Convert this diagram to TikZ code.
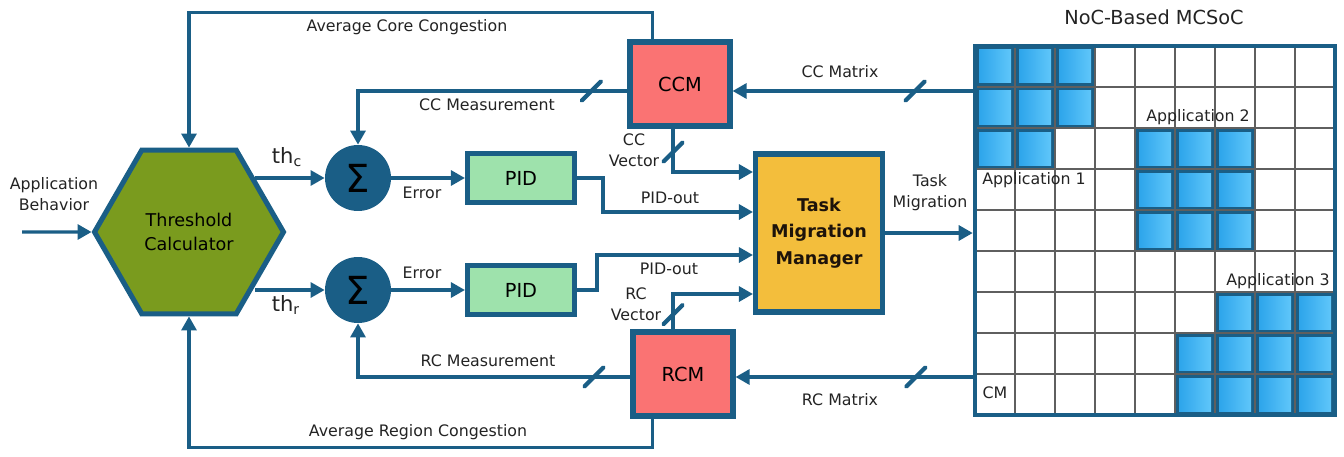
\documentclass[tikz,border=0pt]{standalone}
\usepackage{fontspec}
\setmainfont{DejaVu Sans}
\usepackage{tikz}
\usetikzlibrary{shapes.geometric, arrows.meta, positioning, calc}

\definecolor{linec}{RGB}{26,94,134}
\definecolor{textc}{RGB}{35,35,35}
\definecolor{hexfill}{RGB}{122,155,30}
\definecolor{pidfill}{RGB}{158,226,172}
\definecolor{monfill}{RGB}{250,115,115}
\definecolor{tmmfill}{RGB}{243,190,60}
\definecolor{corelo}{RGB}{45,165,235}
\definecolor{corehi}{RGB}{95,198,250}
\definecolor{gridc}{RGB}{95,95,95}

\tikzset{
  flow/.style={draw=linec, line width=1.9pt, -{Triangle[length=8pt,width=8.5pt]}},
  blk/.style={draw=linec, line width=2.9pt, align=center, inner sep=0pt, text=black},
  hexa/.style={blk, regular polygon, regular polygon sides=6, minimum size=3.78cm,
    fill=hexfill, font=\fontsize{10}{14}\selectfont},
  sumnode/.style={circle, fill=linec, minimum size=1.32cm, inner sep=0pt,
    font=\fontsize{22}{22}\selectfont},
  pidbox/.style={blk, fill=pidfill, minimum width=2.14cm, minimum height=0.98cm,
    font=\fontsize{11}{13}\selectfont},
  monbox/.style={blk, fill=monfill, minimum width=2.0cm, minimum height=1.68cm,
    font=\fontsize{11}{13}\selectfont},
  tmmbox/.style={blk, fill=tmmfill, minimum width=2.54cm, minimum height=3.16cm,
    font=\bfseries\fontsize{10}{15}\selectfont, text=black!85!brown},
  lbl/.style={text=textc, align=center, inner sep=1pt},
  thlbl/.style={lbl, font=\fontsize{12}{14}\selectfont},
  bus/.style={fill=linec, minimum width=2.4pt, minimum height=0.62cm, inner sep=0pt,
    rotate=-45, rounded corners=1pt},
  core/.style={left color=corelo, right color=corehi},
  gridl/.style={draw=gridc, line width=0.7pt},
  nocframe/.style={draw=linec, line width=2.6pt, minimum width=7.2cm,
    minimum height=7.38cm, inner sep=0pt}
}

\begin{document}
\begin{tikzpicture}[x=0.02cm, y=-0.02cm, font=\fontsize{9}{12}\selectfont]
\useasboundingbox (0,0) rectangle (1344,456);

% control blocks
\node[hexa] (thc) at (189,232) {Threshold\\Calculator};
\node[sumnode] (sc) at (358,178) {Σ};
\node[sumnode] (sr) at (358,290) {Σ};
\node[pidbox] (pidc) at (521,178) {PID};
\node[pidbox] (pidr) at (521,290) {PID};
\node[monbox] (ccm) at (680,84) {CCM};
\node[monbox] (rcm) at (683,374) {RCM};
\node[tmmbox] (tmm) at (819,233) {Task\\Migration\\Manager};

% NoC mesh
\foreach \c/\r in {0/0,1/0,2/0,0/1,1/1,2/1,0/2,1/2,
                   4/2,5/2,6/2,4/3,5/3,6/3,4/4,5/4,6/4,
                   6/6,7/6,8/6,5/7,6/7,7/7,8/7,5/8,6/8,7/8,8/8} {
  \fill[linec] (975+40*\c,46+41*\r) rectangle ++(40,41);
  \fill[core] (979+40*\c,50+41*\r) rectangle ++(32,33);
}
\foreach \i in {1,...,8} {
  \draw[gridl] (975+40*\i,46) -- ++(0,369);
  \draw[gridl] (975,46+41*\i) -- ++(360,0);
}
\node[nocframe] (noc) at (1155,230.5) {};
\node[lbl, font=\fontsize{11}{13}\selectfont] (noctitle) at (1154,17) {NoC-Based MCSoC};
\node[lbl] (app1) at (1034,180) {Application 1};
\node[lbl] (app2) at (1198,117) {Application 2};
\node[lbl] (app3) at (1278,281) {Application 3};
\node[lbl] (cm) at (995,393) {CM};

% signals
\coordinate (appin) at (22,232);
\draw[flow] (appin) -- (thc.west);
\node[lbl] (appbeh) at (54,194) {Application\\Behavior};

\draw[flow] (thc.39 |- sc.west) -- (sc.west);
\draw[flow] (thc.-39 |- sr.west) -- (sr.west);
\node[thlbl] (thclbl) at (287,157) {th\textsubscript{c}};
\node[thlbl] (thrlbl) at (286,305) {th\textsubscript{r}};

\draw[flow] (sc) -- (pidc);
\draw[flow] (sr) -- (pidr);
\node[lbl] (errc) at (422,193) {Error};
\node[lbl] (errr) at (422,273) {Error};

\draw[flow] (pidc.east) -- ++(26,0) |- ($(tmm.west)+(0,-21)$);
\draw[flow] (pidr.east) -- ++(20,0) |- ($(tmm.west)+(0,22)$);
\node[lbl] (pidoutc) at (670,198) {PID-out};
\node[lbl] (pidoutr) at (669,269) {PID-out};

\draw[flow] ($(ccm.south)+(-7,0)$) |- node[bus, pos=0.27]{} ($(tmm.west)+(0,-61)$);
\draw[flow] ($(rcm.north)+(-10,0)$) |- node[bus, pos=0.21]{} ($(tmm.west)+(0,61)$);
\node[lbl] (ccvec) at (634,150) {CC\\Vector};
\node[lbl] (rcvec) at (636,304) {RC\\Vector};

\draw[flow] ($(ccm.west)+(0,7)$) -| node[bus, pos=0.067]{} (sc.north);
\draw[flow] ($(rcm.west)+(0,3)$) -| node[bus, pos=0.067]{} (sr.south);
\node[lbl] (ccmeas) at (487,105) {CC Measurement};
\node[lbl] (rcmeas) at (488,361) {RC Measurement};

\draw[flow] ($(ccm.north west)+(25,0)$) -- ++(0,-27) -| (thc.north);
\draw[flow] ($(rcm.south west)+(22,0)$) -- ++(0,29) -| (thc.south);
\node[lbl] (avgcore) at (407,27) {Average Core Congestion};
\node[lbl] (avgreg) at (418,432) {Average Region Congestion};

\draw[flow] (noc.west |- ccm.west) ++(0,7) -- node[bus, pos=0.24]{} ($(ccm.east)+(0,7)$);
\draw[flow] (noc.west |- rcm.west) ++(0,3) -- node[bus, pos=0.24]{} ($(rcm.east)+(0,3)$);
\node[lbl] (ccmat) at (840,72) {CC Matrix};
\node[lbl] (rcmat) at (840,400) {RC Matrix};

\draw[flow] (tmm.east) -- (tmm.east -| noc.west);
\node[lbl] (tmig) at (930,193) {Task\\Migration};
\end{tikzpicture}
\end{document}
